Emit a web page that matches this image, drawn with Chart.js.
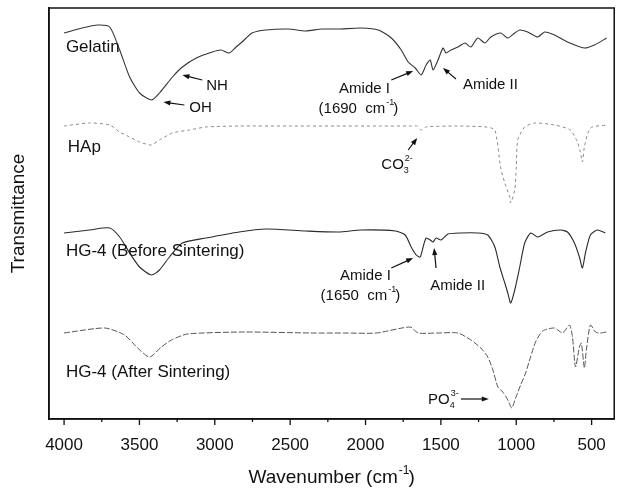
<!DOCTYPE html>
<html>
<head>
<meta charset="utf-8">
<title>FTIR spectra</title>
<script src="https://cdn.jsdelivr.net/npm/chart.js@4.4.1/dist/chart.umd.min.js"></script>
<style>
  html, body { margin: 0; padding: 0; background: #fff; }
  #wrap { width: 622px; height: 488px; }
</style>
</head>
<body>
<div id="wrap"><canvas id="ftir" width="622" height="488"></canvas></div>
<script>
// 红外光谱 (波数 cm-1 / 相对透过率, 各曲线已上下平移)
const gelatinWn = [4000, 3880, 3776, 3697, 3631, 3565, 3499, 3420, 3367, 3281, 3215, 3123, 3017, 2958, 2905, 2859, 2819, 2753, 2661, 2509,
  2397, 2291, 2179, 2027, 1915, 1829, 1763, 1717, 1670, 1631, 1598, 1571, 1552, 1519, 1486, 1466, 1433, 1387, 1340, 1301,
  1255, 1208, 1169, 1103, 1056, 1010, 977, 924, 858, 812, 746, 660, 548, 482, 400];
const gelatinT = [386, 391, 394, 392, 369, 342, 326, 319, 326, 342, 352, 361, 367, 369, 366, 372, 377, 386, 389, 390,
  388, 390, 390, 391, 389, 381, 369, 357, 351, 344, 354, 359, 349, 359, 371, 366, 369, 372, 376, 372,
  381, 376, 382, 386, 381, 386, 389, 387, 382, 387, 384, 377, 371, 374, 381];

const hapWn = [4000, 3830, 3697, 3631, 3565, 3499, 3420, 3367, 3281, 3169, 3057, 2839, 2500, 2200, 1900, 1700, 1660, 1631, 1600, 1400,
  1200, 1142, 1103, 1076, 1043, 1037, 1010, 1000, 990, 944, 878, 746, 641, 594, 575, 561, 548, 508, 400];
const hapT = [293, 296, 294, 287, 282, 277, 274, 279, 286, 289, 292, 293, 293, 293, 293, 293, 293, 289, 292, 293,
  292, 289, 251, 236, 222, 216, 229, 251, 279, 292, 296, 294, 289, 277, 267, 257, 272, 291, 294];

const beforeWn = [4000, 3830, 3697, 3631, 3565, 3499, 3420, 3367, 3301, 3215, 3057, 2839, 2661, 2397, 2179, 2027, 1802, 1737, 1697, 1664,
  1637, 1618, 1598, 1571, 1552, 1532, 1499, 1453, 1367, 1255, 1189, 1142, 1109, 1076, 1056, 1037, 1010, 977, 944, 904,
  858, 792, 707, 660, 614, 581, 561, 541, 508, 462, 409];
const beforeT = [186, 189, 191, 182, 166, 152, 144, 149, 162, 176, 181, 187, 190, 188, 187, 189, 188, 184, 172, 164,
  162, 172, 181, 179, 177, 181, 179, 185, 186, 186, 184, 172, 152, 136, 126, 116, 129, 152, 176, 186,
  182, 187, 189, 187, 176, 162, 151, 166, 184, 189, 186];

const afterWn = [4000, 3730, 3598, 3512, 3433, 3354, 3288, 3182, 2806, 2364, 2146, 1928, 1704, 1651, 1519, 1387, 1301, 1235, 1189, 1155,
  1122, 1089, 1056, 1030, 1004, 971, 938, 905, 872, 825, 746, 693, 647, 627, 607, 581, 568, 548, 535, 508,
  475, 442, 403];
const afterT = [86, 91, 84, 71, 62, 72, 79, 85, 87, 86, 86, 86, 92, 86, 86, 86, 79, 71, 62, 49,
  32, 27, 19, 11, 21, 34, 46, 62, 77, 88, 91, 86, 94, 82, 52, 72, 76, 51, 69, 94,
  87, 86, 87];

// 横轴刻度 (主刻度 500, 次刻度 250)
const tickValues = [4000, 3750, 3500, 3250, 3000, 2750, 2500, 2250, 2000, 1750, 1500, 1250, 1000, 750, 500];

const FONT = '"Liberation Sans", Arial, Helvetica, sans-serif';

// 标注文字: [文本, 模式] 模式 0 正常, 1 上标, -1 下标, -2 下标(不占宽度)
const notes = [
  { parts: [['Gelatin', 0]], wn: 3988, t: 372, size: 17 },
  { parts: [['NH', 0]], wn: 3057, t: 333, size: 15 },
  { parts: [['OH', 0]], wn: 3169, t: 311, size: 15 },
  { parts: [['Amide I', 0]], wn: 2007, t: 330, size: 15, align: 'center' },
  { parts: [['(1690  cm', 0], ['-1', 1], [')', 0]], wn: 2047, t: 310, size: 15, align: 'center' },
  { parts: [['Amide II', 0]], wn: 1354, t: 334, size: 15 },
  { parts: [['HAp', 0]], wn: 3975, t: 272, size: 17 },
  { parts: [['CO', 0], ['3', -2], ['2-', 1]], wn: 1895, t: 254, size: 15 },
  { parts: [['HG-4 (Before Sintering)', 0]], wn: 3988, t: 168, size: 17 },
  { parts: [['Amide I', 0]], wn: 2001, t: 143, size: 15, align: 'center' },
  { parts: [['(1650  cm', 0], ['-1', 1], [')', 0]], wn: 2034, t: 123, size: 15, align: 'center' },
  { parts: [['Amide II', 0]], wn: 1571, t: 133, size: 15 },
  { parts: [['HG-4 (After Sintering)', 0]], wn: 3988, t: 47, size: 17 },
  { parts: [['PO', 0], ['4', -2], ['3-', 1]], wn: 1585, t: 19, size: 15 }
];

// 箭头 (起点 -> 终点, 数据坐标)
const arrows = [
  [3083, 339, 3215, 344],
  [3202, 314, 3341, 317],
  [1829, 339, 1684, 348],
  [1400, 340, 1486, 351],
  [1717, 269, 1657, 281],
  [1829, 151, 1684, 161],
  [1532, 151, 1545, 171],
  [1367, 20, 1182, 20]
];

function toPoints(wn, t) {
  return wn.map((x, i) => ({ x: x, y: t[i] }));
}

function drawRich(ctx, parts, x, y, size, align) {
  const small = Math.round(size * 0.62);
  const items = parts.map(([txt, mode]) => {
    ctx.font = (mode ? small : size) + 'px ' + FONT;
    return { txt, mode, w: ctx.measureText(txt).width };
  });
  let total = 0;
  items.forEach(it => { if (it.mode !== -2) total += it.w; });
  let cx = align === 'center' ? x - total / 2 : x;
  ctx.textAlign = 'left';
  ctx.textBaseline = 'middle';
  items.forEach(it => {
    ctx.font = (it.mode ? small : size) + 'px ' + FONT;
    let dy = 0;
    if (it.mode === 1) dy = -size * 0.4;
    if (it.mode < 0) dy = size * 0.38;
    ctx.fillText(it.txt, cx + (it.mode === 1 ? 1 : 0), y + dy);
    if (it.mode !== -2) cx += it.w;
  });
}

function drawArrow(ctx, x1, y1, x2, y2) {
  const ang = Math.atan2(y2 - y1, x2 - x1);
  const head = 7, half = 2.6;
  const c = Math.cos(ang), s = Math.sin(ang);
  ctx.beginPath();
  ctx.moveTo(x1, y1);
  ctx.lineTo(x2 - c * head * 0.8, y2 - s * head * 0.8);
  ctx.stroke();
  ctx.beginPath();
  ctx.moveTo(x2, y2);
  ctx.lineTo(x2 - head * c + half * s, y2 - head * s - half * c);
  ctx.lineTo(x2 - head * c - half * s, y2 - head * s + half * c);
  ctx.closePath();
  ctx.fill();
}

// 边框、刻度、标注和横轴标题
const decorPlugin = {
  id: 'decor',
  afterDraw(chart) {
    const { ctx, chartArea: area, scales } = chart;
    const xs = scales.x, ys = scales.y;
    ctx.save();
    ctx.strokeStyle = '#111';
    ctx.lineWidth = 1.5;
    ctx.strokeRect(area.left, area.top, area.right - area.left, area.bottom - area.top);

    ctx.lineWidth = 1.3;
    xs.ticks.forEach(t => {
      const px = xs.getPixelForValue(t.value);
      const len = t.value % 500 === 0 ? 6 : 3;
      ctx.beginPath();
      ctx.moveTo(px, area.bottom);
      ctx.lineTo(px, area.bottom + len);
      ctx.stroke();
    });

    ctx.fillStyle = '#111';
    notes.forEach(n => {
      drawRich(ctx, n.parts, xs.getPixelForValue(n.wn), ys.getPixelForValue(n.t), n.size, n.align);
    });

    ctx.lineWidth = 1.2;
    arrows.forEach(a => {
      drawArrow(ctx, xs.getPixelForValue(a[0]), ys.getPixelForValue(a[1]),
        xs.getPixelForValue(a[2]), ys.getPixelForValue(a[3]));
    });

    drawRich(ctx, [['Wavenumber (cm', 0], ['-1', 1], [')', 0]], (area.left + area.right) / 2, xs.bottom - 10, 19, 'center');
    ctx.restore();
  }
};

const lineStyle = (label, wn, t, color, dash, width) => ({
  label: label,
  data: toPoints(wn, t),
  borderColor: color,
  borderWidth: width,
  borderDash: dash,
  pointRadius: 0,
  tension: 0.22,
  fill: false
});

new Chart(document.getElementById('ftir'), {
  type: 'line',
  data: {
    datasets: [
      lineStyle('Gelatin', gelatinWn, gelatinT, '#333', [], 1.1),
      lineStyle('HAp', hapWn, hapT, '#8a8a8a', [3, 3], 1),
      lineStyle('HG-4 (Before Sintering)', beforeWn, beforeT, '#2a2a2a', [], 1.1),
      lineStyle('HG-4 (After Sintering)', afterWn, afterT, '#555', [6, 2], 1)
    ]
  },
  options: {
    responsive: false,
    animation: false,
    devicePixelRatio: 1,
    layout: { padding: { top: 8, right: 5, left: 0, bottom: 0 } },
    plugins: { legend: { display: false }, tooltip: { enabled: false } },
    scales: {
      x: {
        type: 'linear',
        reverse: true,
        min: 350,
        max: 4100,
        afterBuildTicks: s => { s.ticks = tickValues.map(v => ({ value: v })); },
        afterFit: s => { s.height = 69; },
        grid: { display: false, drawTicks: false },
        border: { display: true, color: '#111', width: 1.5 },
        ticks: {
          autoSkip: false,
          maxRotation: 0,
          padding: 16,
          color: '#111',
          font: { family: FONT, size: 17 },
          callback: v => (v % 500 === 0 ? String(v) : '')
        }
      },
      y: {
        min: 0,
        max: 411,
        afterFit: s => { s.width = 49; },
        grid: { display: false, drawTicks: false },
        border: { display: true, color: '#111', width: 1.5 },
        ticks: { display: false },
        title: {
          display: true,
          text: 'Transmittance',
          color: '#111',
          font: { family: FONT, size: 19 },
          padding: { top: 7, bottom: 0 }
        }
      }
    }
  },
  plugins: [decorPlugin]
});
</script>
</body>
</html>
